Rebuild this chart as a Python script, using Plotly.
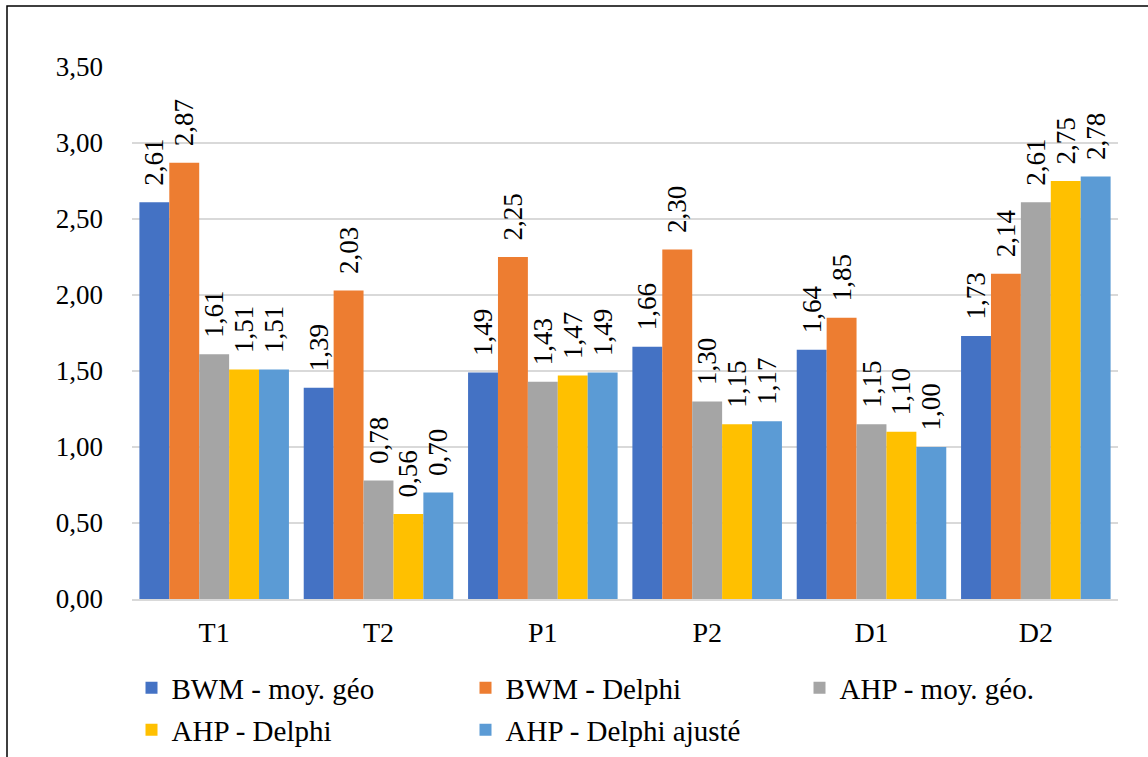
import plotly.graph_objects as go

categories = ["T1", "T2", "P1", "P2", "D1", "D2"]
series_names = ["BWM - moy. géo", "BWM - Delphi", "AHP - moy. géo.", "AHP - Delphi", "AHP - Delphi ajusté"]
bwm_geo = [2.61, 1.39, 1.49, 1.66, 1.64, 1.73]
bwm_delphi = [2.87, 2.03, 2.25, 2.30, 1.85, 2.14]
ahp_geo = [1.61, 0.78, 1.43, 1.30, 1.15, 2.61]
ahp_delphi = [1.51, 0.56, 1.47, 1.15, 1.10, 2.75]
ahp_delphi_adj = [1.51, 0.70, 1.49, 1.17, 1.00, 2.78]
tick_vals = [0, 0.5, 1.0, 1.5, 2.0, 2.5, 3.0, 3.5]

colors = ["#4472C4", "#ED7D31", "#A5A5A5", "#FFC000", "#5B9BD5"]
legend_rows = ["legend", "legend", "legend", "legend2", "legend2"]
FONT = "Liberation Serif, Times New Roman, serif"

fig = go.Figure()
for name, vals, col, lg in zip(series_names,
                               [bwm_geo, bwm_delphi, ahp_geo, ahp_delphi, ahp_delphi_adj],
                               colors, legend_rows):
    fig.add_trace(go.Bar(
        x=categories, y=vals, name=name, legend=lg,
        marker=dict(color=col, line=dict(width=0)),
        texttemplate="\u00a0\u00a0%{y:.2f}", textposition="outside", textangle=-90,
        constraintext="none",
        textfont=dict(family=FONT, size=27, color="#000000"),
        cliponaxis=False,
    ))

W, H = 1148, 757
ml, mr, mt, mb = 132, 30, 67, 158
pw, ph = W - ml - mr, H - mt - mb

def py(px):
    return (H - mb - px) / ph

legend_common = dict(orientation="h", x=-0.0005, xanchor="left",
                     yanchor="middle", entrywidth=289, entrywidthmode="pixels",
                     font=dict(family=FONT, size=29, color="#000000"),
                     itemclick=False, bgcolor="rgba(0,0,0,0)")

fig.update_layout(
    width=W, height=H,
    margin=dict(l=ml, r=mr, t=mt, b=mb, autoexpand=False),
    separators=", ",
    barmode="group", bargap=0.09, bargroupgap=0,
    paper_bgcolor="white", plot_bgcolor="white",
    font=dict(family=FONT, size=27, color="#000000"),
    showlegend=True,
    legend=dict(y=py(688), **legend_common),
    legend2=dict(y=py(730), **legend_common),
    xaxis=dict(showgrid=False, showline=True, linecolor="#D9D9D9", linewidth=1.5,
               ticks="", tickfont=dict(family=FONT, size=28), ticklabelstandoff=8),
    yaxis=dict(range=[0, 3.5], tickvals=tick_vals, tickformat=".2f",
               showgrid=True, gridcolor="#D9D9D9", gridwidth=1.5,
               zeroline=False, showline=False, ticks="",
               tickfont=dict(family=FONT, size=27), ticklabelstandoff=28),
    shapes=[dict(type="rect", xref="paper", yref="paper",
                 x0=(7 - ml) / pw, x1=(W + 20 - ml) / pw,
                 y0=py(H + 20), y1=py(6),
                 line=dict(color="#000000", width=1.5), layer="above")],
)

fig.write_html("out.html", config={"displayModeBar": False},
               post_script="document.body.style.margin='0';")
